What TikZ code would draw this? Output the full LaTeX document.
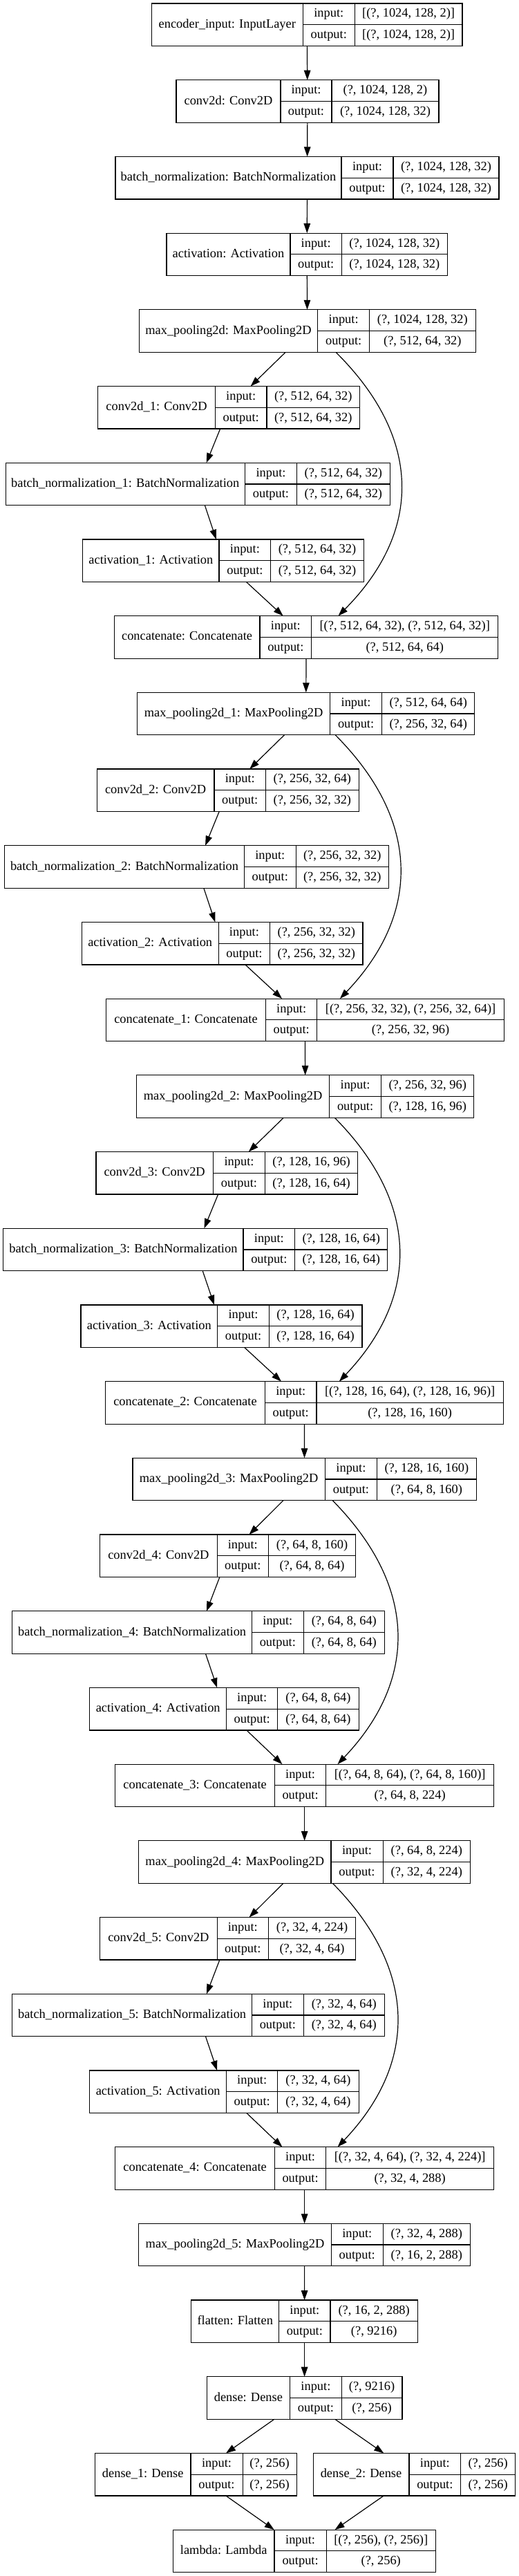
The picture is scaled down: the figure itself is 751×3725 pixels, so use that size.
\documentclass[tikz,border=0pt]{standalone}
\usepackage{fontspec}
\setmainfont{Liberation Serif}
\usetikzlibrary{arrows.meta,calc}
\newcommand\lf{\fontsize{18.4}{22}\selectfont}
\tikzset{
 box/.style={draw=black, line width=1.2pt, inner sep=0pt, outer sep=0pt, rectangle, anchor=north west},
 sep/.style={draw=black, line width=1.2pt},
 txt/.style={inner sep=0pt, font=\lf, text height=12.5pt, text depth=3.3pt, anchor=center},
 edge/.style={line width=1.2pt, -{Triangle[length=14pt,width=9.5pt]}},
}
\newcommand\lay[9]{%
 \pgfmathsetmacro\LYt{5+(#2-1)*110.7}%
 \pgfmathsetmacro\LYb{\LYt+61.5}%
 \pgfmathsetmacro\LYm{\LYt+30.75}%
 \pgfmathsetmacro\LYa{\LYt+15.375}%
 \pgfmathsetmacro\LYc{\LYt+46.125}%
 \pgfmathsetmacro\LW{#6-#3}%
 \node[box, minimum width=\LW pt, minimum height=61.5pt] (#1) at (#3,\LYt) {};
 \draw[sep] (#4,\LYt) -- (#4,\LYb) (#5,\LYt) -- (#5,\LYb) (#4,\LYm) -- (#6,\LYm);
 \node[txt] (#1-lab) at ({(#3+#4)/2},\LYm) {#7};
 \node[txt] (#1-il) at ({(#4+#5)/2},\LYa) {input:};
 \node[txt] (#1-ol) at ({(#4+#5)/2},\LYc) {output:};
 \node[txt] (#1-iv) at ({(#5+#6)/2},\LYa) {#8};
 \node[txt] (#1-ov) at ({(#5+#6)/2},\LYc) {#9};
}
% skip connection: #1 from, #2 to, #3 start dx, #4 end dx, #5 control dx
\newcommand\skipc[5]{%
 \coordinate (#1-k1) at ($(#1.south)+(#5,125)$);
 \coordinate (#1-k2) at ($(#2.north)+(#5,-122)$);
 \draw[edge] ($(#1.south)+(#3,0)$) .. controls (#1-k1) and (#1-k2) .. ($(#2.north)+(#4,0)$);
}
\begin{document}
\begin{tikzpicture}[x=1pt,y=-1pt]
\useasboundingbox[fill=white] (0,0) rectangle (751,3725);

\lay{enc}{1}{219.3}{438.3}{513.3}{669}{encoder\_input: InputLayer}{[(?, 1024, 128, 2)]}{[(?, 1024, 128, 2)]}
\lay{conv}{2}{255}{406}{480}{635}{conv2d: Conv2D}{(?, 1024, 128, 2)}{(?, 1024, 128, 32)}
\lay{bn}{3}{167}{494}{569}{722}{batch\_normalization: BatchNormalization}{(?, 1024, 128, 32)}{(?, 1024, 128, 32)}
\lay{act}{4}{240.9}{420}{494.3}{647.5}{activation: Activation}{(?, 1024, 128, 32)}{(?, 1024, 128, 32)}
\lay{mp}{5}{201.1}{459.8}{534.5}{688.2}{max\_pooling2d: MaxPooling2D}{(?, 1024, 128, 32)}{(?, 512, 64, 32)}

\lay{ca}{6}{141.8}{311.3}{386}{520.6}{conv2d\_1: Conv2D}{(?, 512, 64, 32)}{(?, 512, 64, 32)}
\lay{ba}{7}{8.1}{354.4}{429.6}{564.2}{batch\_normalization\_1: BatchNormalization}{(?, 512, 64, 32)}{(?, 512, 64, 32)}
\lay{aa}{8}{119.7}{317}{391.8}{526.3}{activation\_1: Activation}{(?, 512, 64, 32)}{(?, 512, 64, 32)}
\lay{cat}{9}{165.2}{376}{450.7}{720.8}{concatenate: Concatenate}{[(?, 512, 64, 32), (?, 512, 64, 32)]}{(?, 512, 64, 64)}
\lay{mpa}{10}{198.8}{477.5}{552.7}{686.8}{max\_pooling2d\_1: MaxPooling2D}{(?, 512, 64, 64)}{(?, 256, 32, 64)}

\lay{cb}{11}{140.3}{309.9}{384.6}{519.2}{conv2d\_2: Conv2D}{(?, 256, 32, 64)}{(?, 256, 32, 32)}
\lay{bb}{12}{6.7}{353.4}{428.2}{562.3}{batch\_normalization\_2: BatchNormalization}{(?, 256, 32, 32)}{(?, 256, 32, 32)}
\lay{ab}{13}{118.3}{316.1}{390.8}{524.9}{activation\_2: Activation}{(?, 256, 32, 32)}{(?, 256, 32, 32)}
\lay{catb}{14}{153.3}{384.6}{458.8}{729.4}{concatenate\_1: Concatenate}{[(?, 256, 32, 32), (?, 256, 32, 64)]}{(?, 256, 32, 96)}
\lay{mpb}{15}{197.8}{476.5}{551.7}{685.8}{max\_pooling2d\_2: MaxPooling2D}{(?, 256, 32, 96)}{(?, 128, 16, 96)}

\lay{cc}{16}{138.9}{308.4}{383.6}{517.7}{conv2d\_3: Conv2D}{(?, 128, 16, 96)}{(?, 128, 16, 64)}
\lay{bc}{17}{4.8}{352}{426.7}{560.8}{batch\_normalization\_3: BatchNormalization}{(?, 128, 16, 64)}{(?, 128, 16, 64)}
\lay{ac}{18}{116.9}{314.7}{389.4}{523.9}{activation\_3: Activation}{(?, 128, 16, 64)}{(?, 128, 16, 64)}
\lay{catc}{19}{152.3}{383.6}{457.9}{728.4}{concatenate\_2: Concatenate}{[(?, 128, 16, 64), (?, 128, 16, 96)]}{(?, 128, 16, 160)}
\lay{mpc}{20}{192}{470.3}{545.5}{689.2}{max\_pooling2d\_3: MaxPooling2D}{(?, 128, 16, 160)}{(?, 64, 8, 160)}

\lay{cd}{21}{144.6}{314.2}{388.4}{514.8}{conv2d\_4: Conv2D}{(?, 64, 8, 160)}{(?, 64, 8, 64)}
\lay{bd}{22}{17.7}{364.5}{439.2}{556.5}{batch\_normalization\_4: BatchNormalization}{(?, 64, 8, 64)}{(?, 64, 8, 64)}
\lay{ad}{23}{129.8}{327.6}{401.8}{519.2}{activation\_4: Activation}{(?, 64, 8, 64)}{(?, 64, 8, 64)}
\lay{catd}{24}{166.7}{397.5}{471.7}{714.6}{concatenate\_3: Concatenate}{[(?, 64, 8, 64), (?, 64, 8, 160)]}{(?, 64, 8, 224)}
\lay{mpd}{25}{200.7}{478.9}{554.1}{680.6}{max\_pooling2d\_4: MaxPooling2D}{(?, 64, 8, 224)}{(?, 32, 4, 224)}

\lay{ce}{26}{144.6}{314.2}{388.4}{514.8}{conv2d\_5: Conv2D}{(?, 32, 4, 224)}{(?, 32, 4, 64)}
\lay{be}{27}{17.7}{364.5}{439.2}{556.5}{batch\_normalization\_5: BatchNormalization}{(?, 32, 4, 64)}{(?, 32, 4, 64)}
\lay{ae}{28}{129.8}{327.6}{401.8}{519.2}{activation\_5: Activation}{(?, 32, 4, 64)}{(?, 32, 4, 64)}
\lay{cate}{29}{166.7}{397.5}{471.7}{714.6}{concatenate\_4: Concatenate}{[(?, 32, 4, 64), (?, 32, 4, 224)]}{(?, 32, 4, 288)}
\lay{mpe}{30}{200.7}{479.4}{554.1}{680.6}{max\_pooling2d\_5: MaxPooling2D}{(?, 32, 4, 288)}{(?, 16, 2, 288)}

\lay{flat}{31}{276.8}{403.7}{478}{604.4}{flatten: Flatten}{(?, 16, 2, 288)}{(?, 9216)}
\lay{dense}{32}{299.3}{419.5}{494.3}{581.9}{dense: Dense}{(?, 9216)}{(?, 256)}
\lay{da}{33}{137.5}{275.9}{351.1}{429.1}{dense\_1: Dense}{(?, 256)}{(?, 256)}
\lay{db}{33}{453.1}{592}{666.7}{745.7}{dense\_2: Dense}{(?, 256)}{(?, 256)}
\lay{lam}{34}{250.5}{397}{472.2}{630.3}{lambda: Lambda}{[(?, 256), (?, 256)]}{(?, 256)}

% straight connectors
\draw[edge] (enc) -- (conv);
\draw[edge] (conv) -- (bn);
\draw[edge] (bn) -- (act);
\draw[edge] (act) -- (mp);
\draw[edge] (mp) -- (ca);
\draw[edge] (ca) -- (ba);
\draw[edge] (ba) -- (aa);
\draw[edge] (aa) -- (cat);
\draw[edge] (cat) -- (mpa);
\draw[edge] (mpa) -- (cb);
\draw[edge] (cb) -- (bb);
\draw[edge] (bb) -- (ab);
\draw[edge] (ab) -- (catb);
\draw[edge] (catb) -- (mpb);
\draw[edge] (mpb) -- (cc);
\draw[edge] (cc) -- (bc);
\draw[edge] (bc) -- (ac);
\draw[edge] (ac) -- (catc);
\draw[edge] (catc) -- (mpc);
\draw[edge] (mpc) -- (cd);
\draw[edge] (cd) -- (bd);
\draw[edge] (bd) -- (ad);
\draw[edge] (ad) -- (catd);
\draw[edge] (catd) -- (mpd);
\draw[edge] (mpd) -- (ce);
\draw[edge] (ce) -- (be);
\draw[edge] (be) -- (ae);
\draw[edge] (ae) -- (cate);
\draw[edge] (cate) -- (mpe);
\draw[edge] (mpe) -- (flat);
\draw[edge] (flat) -- (dense);
\draw[edge] (dense) -- (da);
\draw[edge] (dense) -- (db);
\draw[edge] (da) -- (lam);
\draw[edge] (db) -- (lam);

% skip connectors
\skipc{mp}{cat}{41.3}{46.5}{167.4}
\skipc{mpa}{catb}{42.4}{50.6}{167}
\skipc{mpb}{catc}{42.5}{50.5}{166.4}
\skipc{mpc}{catd}{40.7}{47.9}{164}
\skipc{mpd}{cate}{40.7}{47.9}{164}
\end{tikzpicture}
\end{document}
